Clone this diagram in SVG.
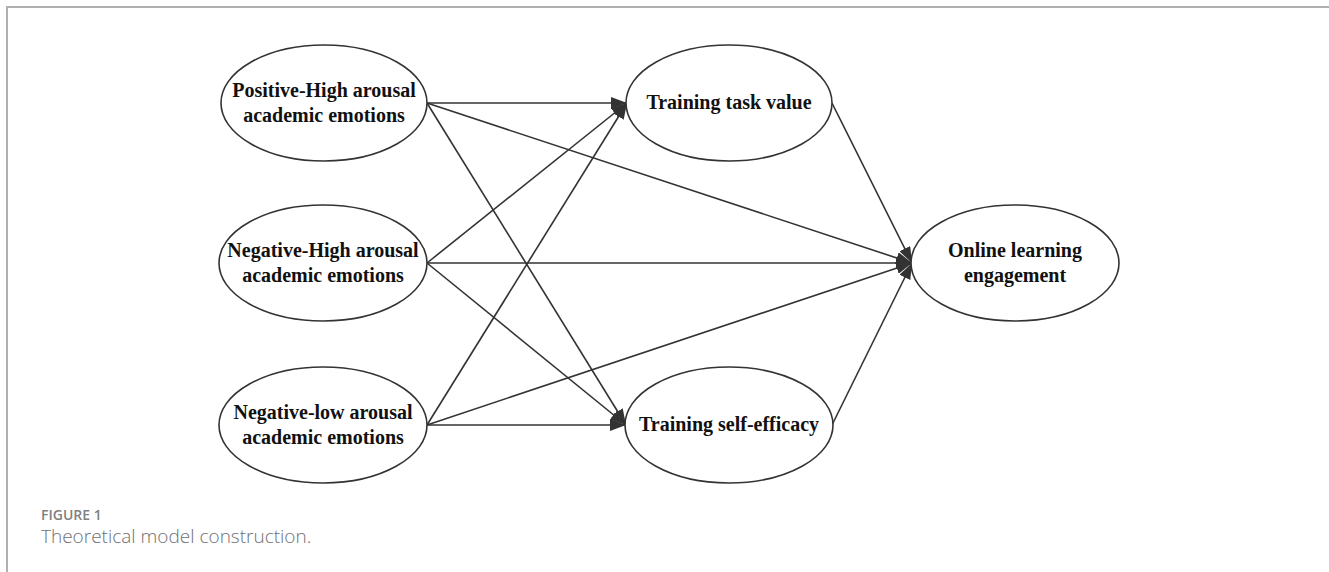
<svg xmlns="http://www.w3.org/2000/svg" width="1329" height="572" viewBox="0 0 1329 572">
<style>
.node ellipse{fill:#fff;stroke:#333;stroke-width:1.6}
.node text{font-family:"Liberation Serif","Times New Roman",serif;font-weight:bold;font-size:20px;fill:#111;text-anchor:middle}
.edges line{stroke:#333;stroke-width:1.6}
.cap1{font-family:"Open Sans","Noto Sans",sans-serif;font-weight:600;font-size:14px;fill:#808080}
.cap2{font-family:"Open Sans","Noto Sans",sans-serif;font-weight:300;font-size:19px;fill:#707070}
</style>
<defs>
<marker id="arr" viewBox="0 0 16 12" refX="16" refY="6" markerWidth="16" markerHeight="12" markerUnits="userSpaceOnUse" orient="auto">
<path d="M0,0 L16,6 L0,12 Z" fill="#333"/>
</marker>
</defs>
<rect width="1329" height="572" fill="#fff"/>
<path d="M7,572 L7,7 L1329,7" fill="none" stroke="#b0b0b0" stroke-width="2"/>
<g class="edges">
<line x1="427" y1="103" x2="627" y2="103" marker-end="url(#arr)"/>
<line x1="427" y1="263" x2="627" y2="103" marker-end="url(#arr)"/>
<line x1="427" y1="425" x2="627" y2="103" marker-end="url(#arr)"/>
<line x1="427" y1="103" x2="626" y2="425" marker-end="url(#arr)"/>
<line x1="427" y1="263" x2="626" y2="425" marker-end="url(#arr)"/>
<line x1="427" y1="425" x2="626" y2="425" marker-end="url(#arr)"/>
<line x1="427" y1="103" x2="912" y2="263" marker-end="url(#arr)"/>
<line x1="427" y1="263" x2="912" y2="263" marker-end="url(#arr)"/>
<line x1="427" y1="425" x2="912" y2="263" marker-end="url(#arr)"/>
<line x1="832" y1="103" x2="912" y2="263" marker-end="url(#arr)"/>
<line x1="832" y1="425" x2="912" y2="263" marker-end="url(#arr)"/>
</g>
<g id="n-pos-high" class="node">
<ellipse cx="324" cy="103" rx="103" ry="58"/>
<text x="324" y="97">Positive-High arousal</text>
<text x="324" y="122">academic emotions</text>
</g>
<g id="n-neg-high" class="node">
<ellipse cx="323" cy="263" rx="104" ry="58"/>
<text x="323" y="257">Negative-High arousal</text>
<text x="323" y="282">academic emotions</text>
</g>
<g id="n-neg-low" class="node">
<ellipse cx="323" cy="425" rx="104" ry="58"/>
<text x="323" y="419">Negative-low arousal</text>
<text x="323" y="444">academic emotions</text>
</g>
<g id="n-task" class="node">
<ellipse cx="729" cy="103" rx="103" ry="58"/>
<text x="729" y="109">Training task value</text>
</g>
<g id="n-self" class="node">
<ellipse cx="729" cy="425" rx="104" ry="58"/>
<text x="729" y="431">Training self-efficacy</text>
</g>
<g id="n-online" class="node">
<ellipse cx="1015" cy="263" rx="104" ry="58"/>
<text x="1015" y="257">Online learning</text>
<text x="1015" y="282">engagement</text>
</g>
<text class="cap1" x="41" y="520">FIGURE 1</text>
<text class="cap2" x="41" y="543">Theoretical model construction.</text>
</svg>
